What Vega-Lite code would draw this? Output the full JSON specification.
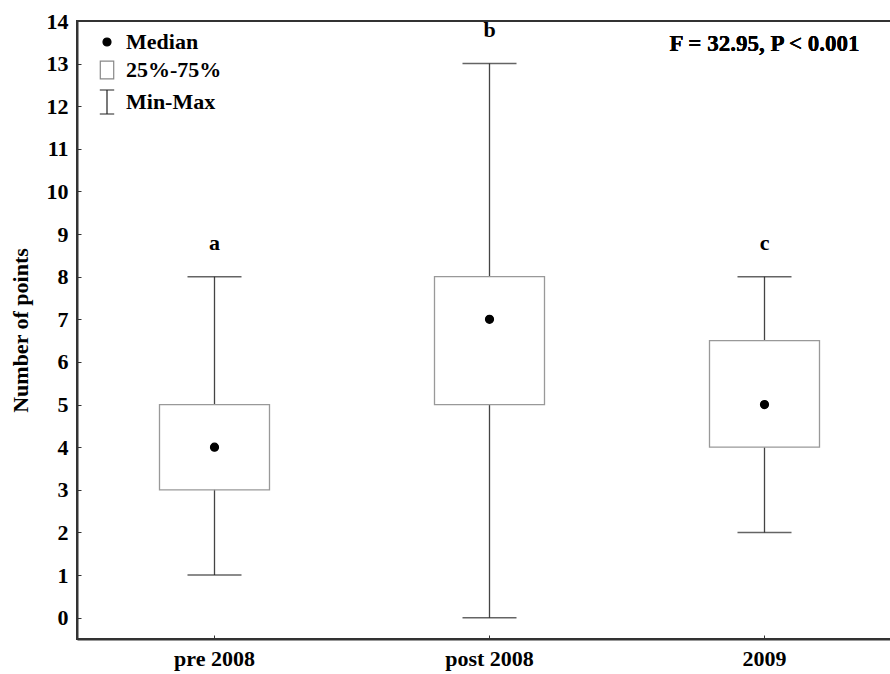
{
  "$schema": "https://vega.github.io/schema/vega-lite/v6.json",
  "autosize": {"type": "none"},
  "width": 825,
  "height": 618,
  "padding": {"left": 77, "top": 21, "right": 0, "bottom": 35},
  "background": "white",
  "config": {
    "font": "Liberation Serif",
    "view": {"stroke": "#333", "strokeWidth": 2},
    "axis": {
      "labelFont": "Liberation Serif", "labelFontWeight": "bold", "labelFontSize": 22, "labelColor": "black",
      "titleFont": "Liberation Serif", "titleFontWeight": "bold", "titleFontSize": 22, "titleColor": "black",
      "domainColor": "#333", "domainWidth": 2, "tickColor": "#333", "grid": false
    },
    "legend": {
      "orient": "none", "legendX": 17, "legendY": 10,
      "labelFont": "Liberation Serif", "labelFontWeight": "bold", "labelFontSize": 22, "labelColor": "black",
      "labelOffset": 6, "rowPadding": 5, "symbolStrokeWidth": 1.2, "titleFontSize": 0
    }
  },
  "data": {
    "values": [
      {"period": "pre 2008", "min": 1, "q1": 3, "median": 4, "q3": 5, "max": 8, "letter": "a", "kind": "Median"},
      {"period": "post 2008", "min": 0, "q1": 5, "median": 7, "q3": 8, "max": 13, "letter": "b", "kind": "Median"},
      {"period": "2009", "min": 2, "q1": 4, "median": 5, "q3": 6.5, "max": 8, "letter": "c", "kind": "Median"}
    ]
  },
  "encoding": {
    "x": {
      "field": "period", "type": "nominal", "sort": null,
      "scale": {"paddingInner": 0, "paddingOuter": 0},
      "axis": {"title": null, "labelAngle": 0, "tickSize": -4, "labelPadding": 13, "domain": true}
    }
  },
  "layer": [
    {
      "mark": {"type": "rule", "color": "#444", "strokeWidth": 1.3},
      "encoding": {
        "y": {
          "field": "min", "type": "quantitative",
          "scale": {"domain": [-0.5, 14], "nice": false, "zero": false},
          "axis": {
            "title": "Number of points",
            "values": [0, 1, 2, 3, 4, 5, 6, 7, 8, 9, 10, 11, 12, 13, 14],
            "format": "d", "tickSize": -4, "labelPadding": 13, "titlePadding": 14
          }
        },
        "y2": {"field": "max"}
      }
    },
    {
      "mark": {"type": "bar", "fill": "white", "stroke": "#999", "strokeWidth": 1.3, "width": 110},
      "encoding": {
        "y": {"field": "q1", "type": "quantitative"},
        "y2": {"field": "q3"}
      }
    },
    {
      "mark": {"type": "tick", "size": 54, "thickness": 1.5, "color": "#222"},
      "encoding": {"y": {"field": "min", "type": "quantitative"}}
    },
    {
      "mark": {"type": "tick", "size": 54, "thickness": 1.5, "color": "#222"},
      "encoding": {"y": {"field": "max", "type": "quantitative"}}
    },
    {
      "mark": {"type": "point", "filled": false, "strokeWidth": 1.2, "opacity": 1},
      "encoding": {
        "y": {"field": "median", "type": "quantitative"},
        "shape": {
          "field": "kind", "type": "nominal", "title": null,
          "scale": {
            "domain": ["Median", "25%-75%", "Min-Max"],
            "range": ["circle", "M-0.75,-1H0.75V1H-0.75Z", "M-0.6,-1H0.6M0,-1V1M-0.6,1H0.6"]
          }
        },
        "fill": {
          "field": "kind", "type": "nominal", "title": null,
          "scale": {"domain": ["Median", "25%-75%", "Min-Max"], "range": ["black", "white", "white"]}
        },
        "stroke": {
          "field": "kind", "type": "nominal", "title": null,
          "scale": {"domain": ["Median", "25%-75%", "Min-Max"], "range": ["black", "#888", "#222"]}
        },
        "size": {
          "field": "kind", "type": "nominal", "title": null,
          "scale": {"domain": ["Median", "25%-75%", "Min-Max"], "range": [64, 576, 576]}
        }
      }
    },
    {
      "mark": {"type": "text", "font": "Liberation Serif", "fontWeight": "bold", "fontSize": 22, "color": "black", "baseline": "alphabetic", "dy": -27},
      "encoding": {
        "y": {"field": "max", "type": "quantitative"},
        "text": {"field": "letter"}
      }
    },
    {
      "mark": {"type": "text", "font": "Liberation Serif", "fontWeight": "bold", "fontSize": 23, "color": "black", "baseline": "middle"},
      "encoding": {
        "x": {"datum": "2009"},
        "y": {"datum": 13.45},
        "text": {"value": "F = 32.95, P < 0.001"}
      }
    }
  ]
}
